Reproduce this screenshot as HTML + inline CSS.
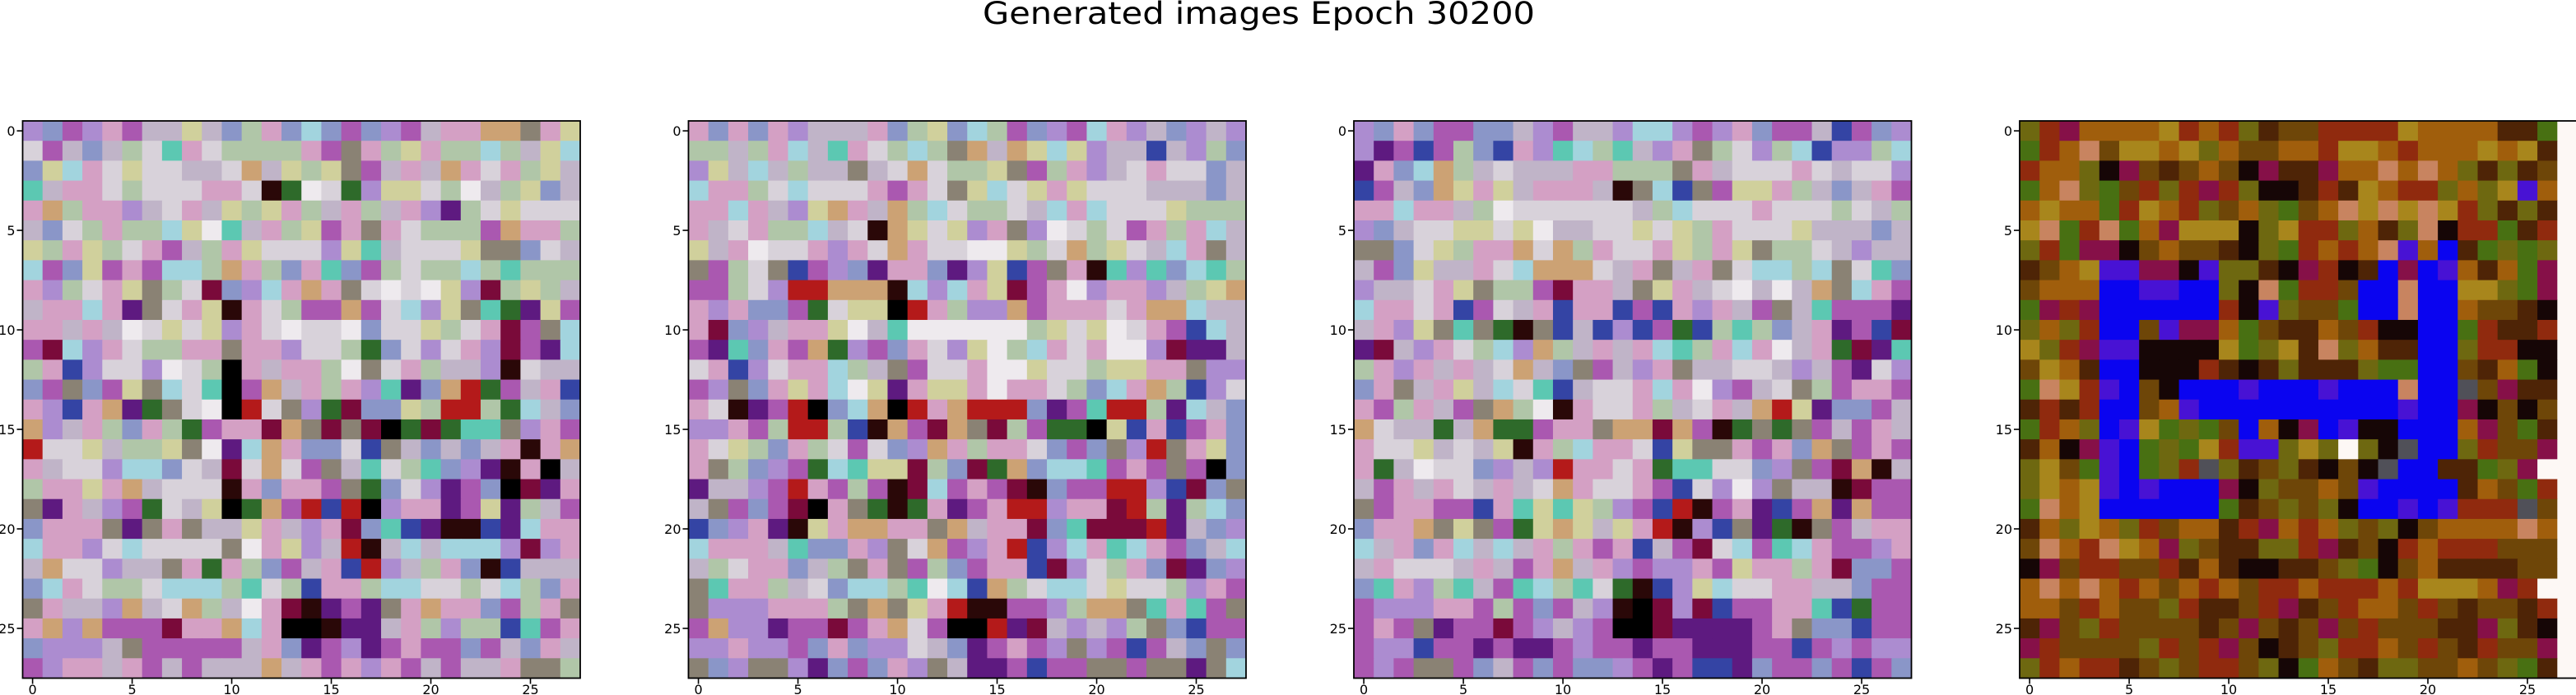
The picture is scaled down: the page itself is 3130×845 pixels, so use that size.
<!DOCTYPE html>
<html><head><meta charset="utf-8"><title>Generated images Epoch 30200</title>
<style>html,body{margin:0;padding:0;background:#fff;}svg{display:block;}</style></head>
<body>
<svg id="fig" width="3130" height="845" viewBox="0 0 3130 845" xmlns="http://www.w3.org/2000/svg">
<text x="1529.5" y="29" text-anchor="middle" font-family="DejaVu Sans, Liberation Sans, sans-serif" font-size="37" textLength="671" lengthAdjust="spacingAndGlyphs">Generated images Epoch 30200</text>
</svg>
<script>
const tickValues = [0, 5, 10, 15, 20, 25];
const pastelPalette = {a:'#c0b4c8',l:'#d8d2da',v:'#ac8cd0',p:'#d4a0c4',m:'#aa58b0',g:'#b0c6a8',t:'#5cc8b2',b:'#8a96c8',k:'#000000',K:'#2a0808',r:'#b41a1a',R:'#7a0a3a',n:'#8a8274',y:'#d0d09c',c:'#a2d4de',o:'#cca274',w:'#eeeaee',G:'#2e6a2a',P:'#5e1a80',B:'#3444a4'};
const warmPalette = {o:'#a05e0c',d:'#4e2406',b:'#6e4608',r:'#902a0e',g:'#6e6810',G:'#487012',y:'#a8861c',B:'#0a04f0',P:'#4812d4',k:'#160606',w:'#fdf8f5',p:'#c88460',m:'#861048',n:'#505058'};
const panel1 = [
"vbmvpmaayabgpbcbmbvmappoonpyp","lmabagltplggggpmnpgypggcgayc","bycplyllaaloaygynmapaoplpgya","tapplglllpplKGwlGvyylgwagyb","pogppvalpaygypgapgapvPglylllg","ablgpggcywtapgympnplgggmoppg","ygpyglpmagpylllvytalllynnbla","cmbympmccgopgbptbmglggcgtggg","pvglpynglRbvcpopnlwlwyvRgyg","appcpPnlpyKplgmmomlcvyntGPym","ppapawlylyvplwllwbllyglpRmnc","mRcvplggppnppvllgGblvlpvRmPc","gpBvllvwlgkpappgwnlpgaavKlaa","bmnbmyncltkmoapgpvtPborGmapB","pvBpoPGnlwkrlnvGRbbygrrgGcab","ovapgbpgGmppRonRnRkGRGttnvpm","rllyaggynwPcopbblBnababapKpo","pallvccblaRlolmnatlgtbvPKpka","gppypoalllKpbppmnGblvPmbkRPp","nPpavmGlaykGomrBrkvppPmyPgam","bpppnPnpnaaypavpRbtBPKKBPcpp","cppvlcllllnwpyvarKacacccvRvp","aollvaanpGpgbmapBrvagpbKBaa","bcplgglcccgtlgBppgccllglcgbpm","npaavoalogawpRKPmPnpoppbmgpn","povommmRppocpkkKPPapgvggBtmp","bvvvanmmmmmapbPmvPmpmmbmabpa","mvppapmamaaaoapmpvpmamaapnng"];
const panel2 = [
"pbpbpvaaapbgybcgmbvmcpvabvav","ggagpcatplgcgnoaoycyvaaBavgb","vyacagaanalolggynmgpvalpllb","cppglclllpmplnyclypylllaaab","ppcpavyopaogclgglacpclllyggg","palpggcalKoylyvpnvwlglmpgpc","yapwllpvplopllwwyglogylacpna","nmglnBmvbPppbPvyBmnpKtvtbctg","mmglvrroooKcvcpyRmpwvppvagyo","pvpbbmGlyykrpgvvomppplpooc","pRbvappywatwwwwwwgylywlpmBc","mPtbpmoGvmbplvywgcplpwwvRPPa","lpBvlppcganmllpwwyllgyyppnvv","mvnbpypcwyPpyypwpplgbcpogBvl","plKPmrkbcokrporrrbPmtrrgPcab","vvpmgrrgBKomRonRgmGGkyBpBmpb","plygbpglmlbvopgpplbmbnvrnpyb","pngbvmGctyyRgbRGobcctmpmnmkb","PaavmrpmgmKRcmpmRKbmmrrvBRbn","anmbmRkpnGKGpPmprrvppRrgPgcb","BbvpPKypooppnoappRbtRRRrPabvt","cpppatbbpvnlomvprBvcptcpmbac","aglppbagnpnmgbmppBRvlgpbRPbv","ntppgalbccgtwcBoglcclyllgvpm","nvvvpppgnonyprKKmmvgoontptmn","movvPmmRmpolmkkrPRavavgnbBmm","vvpvvmbpbvvlabPmpmvnvmBmabnb","nbvnnvPbmbpvnaPPmBmmnnmnnPnc"];
const panel3 = [
"vbpbmmbbavmaavccvmvpbmmaBmbv","vPmBmgbBpvtcgtavpnglvgcBvvgc","Ppbcogalaaappgggnpalllplallv","BmaboypyapppaKncBnmyypgabapm","ppcppagwllllllagclllplllglag","vballyylywaallylygplllyaaab","nnblygppologpllpygpyngglav","ambyaaplcooolapnapnlccgcnltb","vaalpynggmRppanypalwawaoncpm","cpplpBmlapBppBmBpvpamnatmmmP","apvyntnGKnBaBvBmGBgtgbapPmBR","PRavplgcvogapapctgpcpwapGRPt","gpvpapaloabnmavpnaallavamPlvb","bpnapyacltBallpcpwvmalngmppm","pmgpamnogwKpllpgalpaoryPbbm","olaaGaoGGmppnooRomKGnGnmamp","pllyalayKpgcpplBynnpmpbonmpm","pGawllbvavrpplpGttllbvnmRoKa","ampiplapalopllpmBlvwvnaaKRmm","nmppmmBptytygvmBrKmpPBmoPomm","bpponynmGyoyayprKvBnPGKnmapp","capbpcacapgpmpBamRlcmtcpmmvp","aplllapampoapvmvvpmyppgpRbbm","btpvgtamtcgtlGKBvycllppaabmm","mvvvppmgmbmavKkRvRBmmpptBGmm","mpmnPmmRmvavmkkRPPPPmpnbbBmm","mvvBmmPmPPmvmmPmmPPPmmBmvmvv","mvmnnmbambmbbvmPmBBPbmmbmBmb"];
const panel4 = [
"grmooooyrorgdbbrrrryooooddGgw","GropbyyoygobbooryyoroooyoydrW","roogkmbdbobkmddmoopopogdgdbw","GopgGbrgrmrgkkdrdyorrgogyPow","oyooGryorgbogGbopypypyrgdgdw","ypGrpGomyyykgyrrgodgpkrrGdrw","grGmmkbobbdkgGroropPoBdGgGgbw","dboyPPmmkPggdkmrkdBmBPodoGmw","boooBBPPBBgkpGrrbBBpBByygGmw","GmrmBBBBBBrkPgbbGBBpBBobbdkw","gogrBBbPmmoGbddobrkkBBGrddrw","ygrmPPkkkkyGgydpgoddBBgrrkkw","byodBBkkkrdkdgdddgGGBBbdoGkw","GpyrPBbkBBBPBBBPBBBpBBnbmddw","drdrBBboPBBBBBBBBBBPBBmkbkbw","GrogBPyGgGbBokmBPkkBBBombGdw","dokmPBGgGyrPPgygwgknBBgrbbmw","gybGPBGgrngdbgdkbknBBddGgmw","gyoyPBPBBBmkgbbobPBBBBdobGrw","GpoyBBBBBBGdbgbgkBBPBPrrrnbw","dogyogrboodrmorogbgkboooopoGrw","bporpyomgbddggrmdbkrorrrbbbw","kmbrrbbrdodkkddbgGkboddddbbdw","opoporoborotrrorrroryyyomrw","oobrobbgrddbrmdbroobrbdbbdrw","dmbgrbbbbdbmbdbmbrbbbddmgdkw","mrbbbbgrbrmbkdbgrrobrbdrbbmw","grorrdbgbrrbgkGobdggbbobgGdw"];
const panels = [panel1, panel2, panel3, panel4];
const palettes = [pastelPalette, pastelPalette, pastelPalette, warmPalette];

const NS = 'http://www.w3.org/2000/svg';
const svg = document.getElementById('fig');
const N = 28;
const axLefts = [27.5, 836.5, 1645, 2454];
const axTop = 147, axSize = 677.5;
const cell = axSize / N;
function xScale(k, i) { return axLefts[k] + i * cell; }
function yScale(j) { return axTop + j * cell; }

panels.forEach(function (rows, k) {
  const g = document.createElementNS(NS, 'g');
  
  
  svg.appendChild(g);
  const pal = palettes[k];
  for (let j = 0; j < N; j++) {
    const row = rows[j] || '';
    for (let i = 0; i < N; i++) {
      let ch = row.charAt(i);
      if (k === 3 && i === N - 1) ch = 'w';
      let col = pal[ch];
      if (!col) col = (k === 3) ? pal.b : pal.a;
      const r = document.createElementNS(NS, 'rect');
      
      
      r.setAttribute('x', xScale(k, i).toFixed(2));
      r.setAttribute('y', yScale(j).toFixed(2));
      r.setAttribute('width', (cell + 0.6).toFixed(2));
      r.setAttribute('height', (cell + 0.6).toFixed(2));
      r.setAttribute('fill', col);
      g.appendChild(r);
    }
  }
  const frame = document.createElementNS(NS, 'rect');
  
  
  frame.setAttribute('x', axLefts[k]);
  frame.setAttribute('y', axTop);
  frame.setAttribute('width', axSize);
  frame.setAttribute('height', axSize);
  frame.setAttribute('fill', 'none');
  frame.setAttribute('stroke', '#000');
  frame.setAttribute('stroke-width', '1.8');
  svg.appendChild(frame);
  tickValues.forEach(function (v) {
    const cx = xScale(k, v + 0.5);
    const cy = yScale(v + 0.5);
    const tx = document.createElementNS(NS, 'line');
    
    
    tx.setAttribute('x1', cx); tx.setAttribute('x2', cx);
    tx.setAttribute('y1', axTop + axSize); tx.setAttribute('y2', axTop + axSize + 7);
    tx.setAttribute('stroke', '#000'); tx.setAttribute('stroke-width', '1.6');
    svg.appendChild(tx);
    const lx = document.createElementNS(NS, 'text');
    
    
    lx.setAttribute('x', cx); lx.setAttribute('y', 844);
    lx.setAttribute('text-anchor', 'middle');
    lx.setAttribute('font-family', 'DejaVu Sans, Liberation Sans, sans-serif');
    lx.setAttribute('font-size', '16');
    lx.textContent = String(v);
    svg.appendChild(lx);
    const ty = document.createElementNS(NS, 'line');
    
    
    ty.setAttribute('x1', axLefts[k] - 7); ty.setAttribute('x2', axLefts[k]);
    ty.setAttribute('y1', cy); ty.setAttribute('y2', cy);
    ty.setAttribute('stroke', '#000'); ty.setAttribute('stroke-width', '1.6');
    svg.appendChild(ty);
    const ly = document.createElementNS(NS, 'text');
    
    
    ly.setAttribute('x', axLefts[k] - 9); ly.setAttribute('y', cy + 6);
    ly.setAttribute('text-anchor', 'end');
    ly.setAttribute('font-family', 'DejaVu Sans, Liberation Sans, sans-serif');
    ly.setAttribute('font-size', '16');
    ly.textContent = String(v);
    svg.appendChild(ly);
  });
});
</script>
</body></html>
